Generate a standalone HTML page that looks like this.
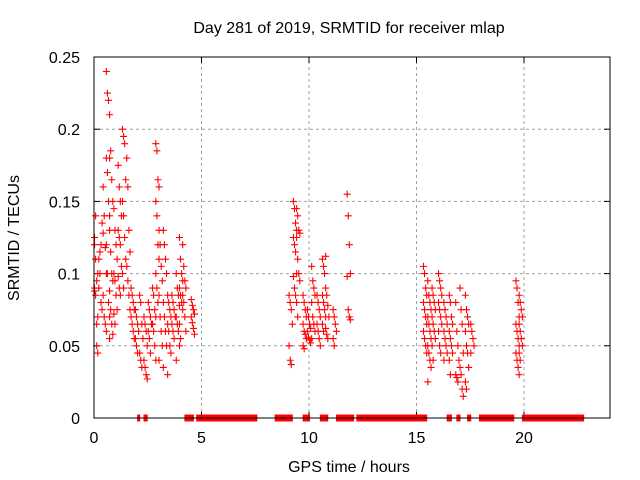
<!DOCTYPE html>
<html><head><meta charset="utf-8"><style>
body{margin:0;background:#fff}
svg{display:block;font-family:"Liberation Sans",sans-serif}
</style></head><body>
<svg id="chart" width="640" height="480" viewBox="0 0 640 480" xmlns="http://www.w3.org/2000/svg">
<text x="349" y="33" font-size="16" text-anchor="middle">Day 281 of 2019, SRMTID for receiver mlap</text>
<text transform="translate(19,238) rotate(-90)" font-size="16" text-anchor="middle">SRMTID / TECUs</text>
<text x="349" y="472" font-size="16" text-anchor="middle">GPS time / hours</text>
<g id="grid"></g><g id="ticks"></g><g id="marks"></g>
<rect x="94" y="57" width="516" height="361" fill="none" stroke="#000" stroke-width="1"/>
</svg>
<script>
const xTicks=[0,5,10,15,20];
const yTicks=[0,0.05,0.1,0.15,0.2,0.25];
const yTickLabels=["0","0.05","0.1","0.15","0.2","0.25"];
const groupTimes=[0.1,0.3,0.5,0.65,0.8,1.0,1.2,1.4,1.6,1.8,2.0,2.2,2.4,2.6,2.8,2.95,3.1,3.3,3.5,3.7,3.9,4.05,4.2,4.6,9.15,9.35,9.5,9.8,10.0,10.2,10.45,10.7,10.85,11.2,11.85,15.4,15.6,15.8,16.1,16.35,16.6,16.9,17.1,17.35,17.6,19.7,19.85];
const groupValues=[
[0.09,0.085,0.095,0.1,0.12,0.11,0.05,0.045,0.125,0.14,0.065,0.07,0.088],
[0.11,0.115,0.12,0.135,0.09,0.1,0.08,0.075],
[0.16,0.14,0.118,0.1,0.085,0.07,0.065,0.06,0.128],
[0.24,0.225,0.22,0.21,0.18,0.17,0.15,0.13,0.12,0.1,0.08,0.07],
[0.18,0.185,0.165,0.15,0.14,0.115,0.1,0.095,0.088,0.075,0.065,0.058,0.055],
[0.145,0.13,0.12,0.11,0.1,0.095,0.085,0.075,0.072,0.065],
[0.175,0.16,0.15,0.14,0.13,0.125,0.12,0.105,0.098,0.09,0.085],
[0.2,0.195,0.19,0.165,0.15,0.14,0.125,0.11,0.1,0.09],
[0.18,0.16,0.13,0.115,0.105,0.095,0.085,0.075],
[0.09,0.085,0.08,0.075,0.07,0.065,0.06,0.055],
[0.075,0.07,0.065,0.06,0.055,0.05,0.045],
[0.085,0.08,0.065,0.055,0.045,0.04,0.035],
[0.07,0.065,0.06,0.05,0.04,0.035,0.03,0.027],
[0.08,0.075,0.07,0.065,0.06,0.055,0.045],
[0.09,0.085,0.075,0.07,0.065,0.06,0.05,0.04],
[0.19,0.185,0.165,0.16,0.15,0.14,0.12,0.11,0.1,0.09,0.08],
[0.13,0.12,0.105,0.095,0.085,0.07,0.06,0.05,0.04],
[0.13,0.12,0.11,0.1,0.08,0.07,0.06,0.05,0.035],
[0.085,0.08,0.075,0.07,0.065,0.06,0.05,0.045,0.03],
[0.085,0.08,0.075,0.07,0.065,0.06,0.055],
[0.1,0.09,0.085,0.078,0.07,0.065,0.06,0.05,0.04],
[0.125,0.11,0.1,0.095,0.09,0.085,0.08,0.075,0.065,0.055],
[0.12,0.105,0.095,0.09,0.085,0.08,0.07,0.06],
[0.082,0.078,0.075,0.072,0.07,0.066,0.062,0.058],
[0.085,0.08,0.075,0.065,0.05,0.04,0.037],
[0.15,0.145,0.135,0.13,0.125,0.12,0.115,0.1,0.098,0.09,0.085],
[0.145,0.14,0.13,0.128,0.125,0.11,0.1,0.095,0.08,0.07],
[0.085,0.08,0.075,0.07,0.065,0.06,0.058,0.055,0.05,0.048],
[0.075,0.07,0.065,0.062,0.06,0.056,0.054,0.052],
[0.105,0.095,0.09,0.085,0.08,0.07,0.065,0.06,0.055],
[0.085,0.08,0.075,0.07,0.065,0.06,0.055,0.05],
[0.11,0.105,0.1,0.09,0.085,0.08,0.075,0.07,0.065,0.06],
[0.112,0.085,0.078,0.07,0.062,0.058,0.055],
[0.075,0.07,0.065,0.06,0.055,0.05],
[0.155,0.14,0.12,0.1,0.098,0.075,0.07,0.068],
[0.105,0.1,0.09,0.085,0.08,0.075,0.07,0.065,0.06,0.055,0.05,0.045],
[0.095,0.085,0.08,0.075,0.07,0.065,0.06,0.055,0.05,0.045,0.04,0.035,0.025],
[0.09,0.085,0.08,0.075,0.07,0.065,0.06,0.055,0.05,0.04],
[0.1,0.095,0.09,0.085,0.08,0.075,0.07,0.065,0.06,0.05,0.045],
[0.08,0.075,0.07,0.065,0.06,0.055,0.05,0.045,0.04],
[0.085,0.08,0.07,0.065,0.06,0.055,0.05,0.045,0.04,0.03],
[0.08,0.06,0.05,0.04,0.03,0.028,0.025],
[0.09,0.075,0.065,0.045,0.035,0.03,0.02,0.015],
[0.085,0.075,0.07,0.065,0.06,0.05,0.045,0.035,0.025,0.02],
[0.065,0.06,0.055,0.05,0.045],
[0.095,0.09,0.08,0.07,0.065,0.06,0.055,0.05,0.045,0.04,0.035,0.03],
[0.085,0.08,0.075,0.07,0.065,0.06,0.055,0.05,0.045,0.04]
];
const zeroStarts=[2.05,2.35,4.25,4.8,8.45,9.75,10.55,11.3,12.25,16.45,16.9,17.4,17.95,19.95];
const zeroEnds=[2.1,2.45,4.6,7.55,9.2,10.0,10.85,12.05,15.45,16.6,17.0,17.5,19.5,22.75];

const X0=94,X1=610,Y0=418,Y1=57;
const xs=h=>X0+h*(X1-X0)/24;
const ys=v=>Y0-v*(Y0-Y1)/0.25;
const NS="http://www.w3.org/2000/svg";
function mk(tag,attrs,parent){const e=document.createElementNS(NS,tag);for(const k in attrs)e.setAttribute(k,attrs[k]);parent.appendChild(e);return e;}
const grid=document.getElementById('grid'),ticks=document.getElementById('ticks'),marks=document.getElementById('marks');
xTicks.forEach((t,i)=>{
  const x=xs(t);
  if(i>0){const g=mk('line',{x1:x,x2:x,y1:Y0,y2:Y1,stroke:'#a0a0a0','stroke-dasharray':'3,3'},grid);
  
  }
  mk('line',{x1:x,x2:x,y1:Y0,y2:Y0-6,stroke:'#000'},ticks);
  mk('line',{x1:x,x2:x,y1:Y1,y2:Y1+6,stroke:'#000'},ticks);
  const l=mk('text',{x:x,y:Y0+25,'font-size':16,'text-anchor':'middle'},ticks);
  l.textContent=String(t);
  
  
});
yTicks.forEach((t,i)=>{
  const y=ys(t);
  if(i>0&&i<yTicks.length-1){const g=mk('line',{x1:X0,x2:X1,y1:y,y2:y,stroke:'#a0a0a0','stroke-dasharray':'3,3'},grid);
  
  }
  mk('line',{x1:X0,x2:X0+6,y1:y,y2:y,stroke:'#000'},ticks);
  mk('line',{x1:X1,x2:X1-6,y1:y,y2:y,stroke:'#000'},ticks);
  const l=mk('text',{x:X0-14,y:y+6,'font-size':16,'text-anchor':'end'},ticks);
  l.textContent=yTickLabels[i];
  
  
});
function plus(h,v){
  const x=xs(h),y=ys(v);
  const p=mk('path',{d:`M${x-3.5},${y}h7M${x},${y-3.5}v7`,stroke:'#ff0000','stroke-width':1.1,fill:'none'},marks);
  
  
}
groupTimes.forEach((t,g)=>{
  groupValues[g].forEach((v,i)=>plus(t+((i%4)-1.5)*0.05,v));
});
zeroStarts.forEach((s,i)=>{
  const x1=xs(s)-1,x2=xs(zeroEnds[i])+1,y=ys(0);
  const r=mk('rect',{x:x1,y:y-3.5,width:Math.max(2,x2-x1),height:7,fill:'#ff0000'},marks);
  
  
});
</script>
</body></html>
